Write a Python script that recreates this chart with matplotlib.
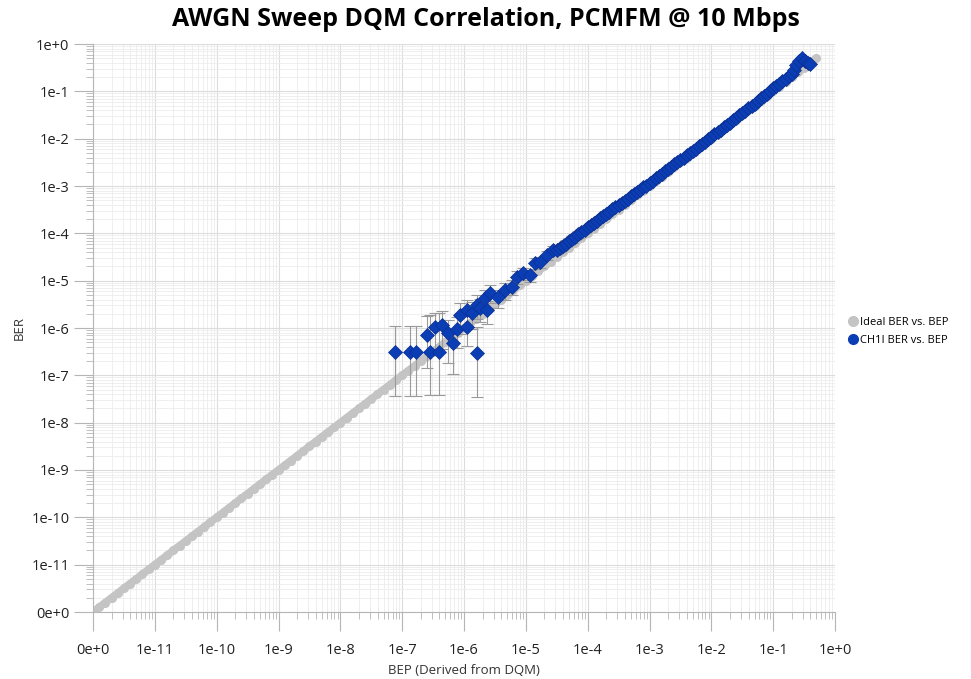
import numpy as np
import matplotlib.pyplot as plt
from matplotlib.ticker import LogLocator, FuncFormatter, NullFormatter
from matplotlib.lines import Line2D

plt.rcParams['font.family'] = ['Open Sans', 'DejaVu Sans']

# ideal curve: BER == BEP, exponents (log10)
ideal_log = [
    -12.0, -11.9, -11.8, -11.7, -11.6, -11.5, -11.4, -11.3, -11.2, -11.1,
    -11.0, -10.9, -10.8, -10.7, -10.6, -10.5, -10.4, -10.3, -10.2, -10.1,
    -10.0, -9.9, -9.8, -9.7, -9.6, -9.5, -9.4, -9.3, -9.2, -9.1,
    -9.0, -8.9, -8.8, -8.7, -8.6, -8.5, -8.4, -8.3, -8.2, -8.1,
    -8.0, -7.9, -7.8, -7.7, -7.6, -7.5, -7.4, -7.3, -7.2, -7.1,
    -7.0, -6.9, -6.8, -6.7, -6.6, -6.5, -6.4, -6.3, -6.2, -6.1,
    -6.0, -5.9, -5.8, -5.7, -5.6, -5.5, -5.4, -5.3, -5.2, -5.1,
    -5.0, -4.9, -4.8, -4.7, -4.6, -4.5, -4.4, -4.3, -4.2, -4.1,
    -4.0, -3.9, -3.8, -3.7, -3.6, -3.5, -3.4, -3.3, -3.2, -3.1,
    -3.0, -2.9, -2.8, -2.7, -2.6, -2.5, -2.4, -2.3, -2.2, -2.1,
    -2.0, -1.9, -1.8, -1.7, -1.6, -1.5, -1.4, -1.3, -1.2, -1.1,
    -1.0, -0.9, -0.8, -0.7, -0.6, -0.5, -0.4, -0.3,
]

# CH1I low-BER points (log10 BEP, log10 BER) with error extents in decades
sparse_bep_log = [
    -7.12, -6.87, -6.78, -6.55, -6.40, -5.79, -6.60, -6.47, -6.36, -6.26,
    -6.18, -6.11, -6.06, -5.95, -5.95, -5.87, -5.79, -5.74, -5.66, -5.63,
    -5.58, -5.45, -5.34, -5.22, -5.14, -5.05, -4.93, -4.85, -4.77, -4.66,
    -4.56,
]
sparse_ber_log = [
    -6.51, -6.51, -6.51, -6.51, -6.51, -6.53, -6.15, -5.98, -5.94, -6.11,
    -6.32, -6.02, -5.73, -5.98, -5.62, -5.68, -5.51, -5.58, -5.37, -5.62,
    -5.26, -5.35, -5.20, -5.13, -4.92, -4.84, -4.88, -4.63, -4.61, -4.46,
    -4.35,
]
sparse_err_lo = [
    0.93, 0.93, 0.93, 0.91, 0.91, 0.93, 0.70, 0.50, 0.50, 0.62,
    0.65, 0.40, 0.40, 0.40, 0.35, 0.35, 0.30, 0.30, 0.25, 0.30,
    0.22, 0.22, 0.20, 0.18, 0.15, 0.14, 0.14, 0.12, 0.12, 0.10,
    0.10,
]
sparse_err_hi = [
    0.55, 0.55, 0.55, 0.78, 0.83, 0.55, 0.40, 0.30, 0.30, 0.28,
    0.21, 0.25, 0.25, 0.25, 0.22, 0.22, 0.20, 0.20, 0.18, 0.20,
    0.16, 0.16, 0.15, 0.14, 0.12, 0.11, 0.11, 0.10, 0.10, 0.09,
    0.08,
]

# CH1I dense points above 3e-5
dense_bep_log = [
    -4.50, -4.45, -4.40, -4.35, -4.30, -4.25, -4.20, -4.15, -4.10, -4.05,
    -4.00, -3.95, -3.90, -3.85, -3.80, -3.75, -3.70, -3.65, -3.60, -3.55,
    -3.50, -3.45, -3.40, -3.35, -3.30, -3.25, -3.20, -3.15, -3.10, -3.05,
    -3.00, -2.95, -2.90, -2.85, -2.80, -2.75, -2.70, -2.65, -2.60, -2.55,
    -2.50, -2.45, -2.40, -2.35, -2.30, -2.25, -2.20, -2.15, -2.10, -2.05,
    -2.00, -1.95, -1.90, -1.85, -1.80, -1.75, -1.70, -1.65, -1.60, -1.55,
    -1.50, -1.45, -1.40, -1.35, -1.30, -1.25, -1.20, -1.15, -1.10, -1.05,
    -1.00, -0.95, -0.90, -0.85, -0.80, -0.75, -0.70,
    -0.66, -0.63, -0.58, -0.53, -0.48, -0.44, -0.40,
]
dense_ber_log = [
    -4.36, -4.32, -4.27, -4.22, -4.17, -4.13, -4.08, -4.02, -3.97, -3.93,
    -3.87, -3.83, -3.78, -3.73, -3.68, -3.64, -3.59, -3.55, -3.49, -3.45,
    -3.41, -3.36, -3.32, -3.27, -3.22, -3.17, -3.13, -3.08, -3.03, -2.99,
    -2.94, -2.89, -2.84, -2.79, -2.74, -2.69, -2.64, -2.59, -2.54, -2.50,
    -2.45, -2.40, -2.35, -2.31, -2.26, -2.21, -2.16, -2.11, -2.06, -2.01,
    -1.96, -1.91, -1.86, -1.81, -1.76, -1.71, -1.66, -1.61, -1.56, -1.51,
    -1.46, -1.41, -1.36, -1.31, -1.26, -1.20, -1.15, -1.10, -1.05, -0.99,
    -0.94, -0.89, -0.84, -0.78, -0.73, -0.68, -0.63,
    -0.55, -0.44, -0.35, -0.30, -0.36, -0.40, -0.42,
]
dense_err = [0.07] * 10 + [0.05] * 10 + [0.03] * 20 + [0.01] * 44

ideal_bep = 10.0 ** np.array(ideal_log)
ideal_ber = ideal_bep

ch1_bep_log = np.array(sparse_bep_log + dense_bep_log)
ch1_ber_log = np.array(sparse_ber_log + dense_ber_log)
ch1_lo = np.array(sparse_err_lo + dense_err)
ch1_hi = np.array(sparse_err_hi + dense_err)
ch1_bep = 10.0 ** ch1_bep_log
ch1_ber = 10.0 ** ch1_ber_log
err_lo = ch1_ber - 10.0 ** (ch1_ber_log - ch1_lo)
err_hi = 10.0 ** (ch1_ber_log + ch1_hi) - ch1_ber

fig = plt.figure(figsize=(9.71, 6.79), dpi=100)
ax = fig.add_axes([93 / 971, 1 - 612 / 679, 742 / 971, 568 / 679])
ax.set_xscale('log')
ax.set_yscale('log')
ax.set_xlim(1e-12, 1)
ax.set_ylim(1e-12, 1)

gray = '#c4c4c4'
blue = '#0b3db5'
ax.plot(ideal_bep, ideal_ber, '-', color=gray, lw=5.5, solid_capstyle='round', zorder=2)
ax.plot(ideal_bep, ideal_ber, 'o', color=gray, ms=6.5, mec='none', zorder=2)
ax.errorbar(ch1_bep, ch1_ber, yerr=[err_lo, err_hi], fmt='none', ecolor='#9a9a9a',
            elinewidth=0.8, capsize=4.5, capthick=0.8, zorder=3)
ax.plot(ch1_bep, ch1_ber, 'D', color=blue, mec='#0a2f90', mew=0.5, ms=7.5, zorder=4)


def fmt(v, pos):
    e = int(round(np.log10(v)))
    if e == -12:
        return '0e+0'
    if e == 0:
        return '1e+0'
    return '1e%d' % e


for axis in (ax.xaxis, ax.yaxis):
    axis.set_major_locator(LogLocator(base=10, numticks=20))
    axis.set_minor_locator(LogLocator(base=10, subs=np.arange(2, 10), numticks=20))
    axis.set_major_formatter(FuncFormatter(fmt))
    axis.set_minor_formatter(NullFormatter())

ax.grid(which='major', color='#dcdcdc', lw=0.8)
ax.grid(which='minor', color='#ececec', lw=0.6)
ax.set_axisbelow(True)
for s in ('top', 'right'):
    ax.spines[s].set_visible(False)
for s in ('left', 'bottom'):
    ax.spines[s].set_color('#b5b5b5')
ax.tick_params(which='major', length=14, width=0.8, color='#b5b5b5', labelsize=10.5,
               labelcolor='#222222', pad=3)
ax.tick_params(axis='x', which='major', pad=8)
ax.tick_params(which='minor', length=5, width=0.6, color='#b5b5b5')

ax.set_xlabel('BEP (Derived from DQM)', fontsize=9.5, color='#333333', labelpad=5)
ax.set_ylabel('BER', fontsize=9.5, color='#333333', labelpad=4)
fig.suptitle('AWGN Sweep DQM Correlation, PCMFM @ 10 Mbps', fontsize=18,
             fontweight='bold', y=0.972, va='center')

handles = [
    Line2D([], [], marker='o', ls='none', color=gray, ms=7, label='Ideal BER vs. BEP'),
    Line2D([], [], marker='o', ls='none', color=blue, ms=7, label='CH1I BER vs. BEP'),
]
fig.legend(handles=handles, loc='center left', bbox_to_anchor=(0.861, 0.512), frameon=False,
           fontsize=8, handletextpad=0.1, handlelength=1.2, labelspacing=0.6)

fig.savefig('out.png', dpi=100)
